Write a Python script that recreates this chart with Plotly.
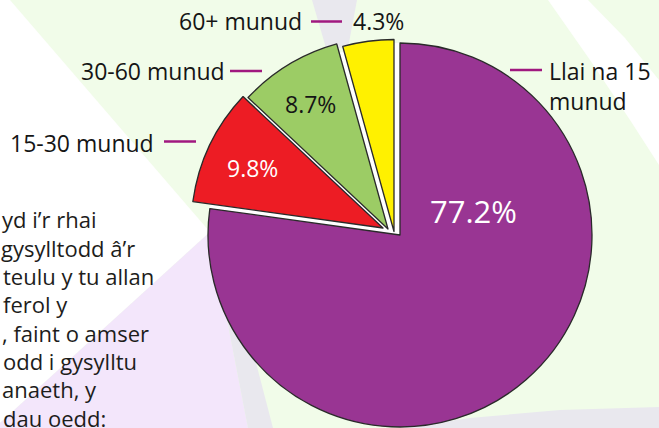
import plotly.graph_objects as go

W, H = 659, 428

# data
labels = ["Llai na 15 munud", "15-30 munud", "30-60 munud", "60+ munud"]
shares = [77.2, 9.8, 8.7, 4.3]
slice_colors = ["#993593", "#ed1c24", "#9ccc65", "#fff100"]
pct_colors = ["white", "white", "#151515", "#151515"]

body_lines = ["yd i’r rhai", "gysylltodd â’r", "teulu y tu allan", "ferol y",
              ", faint o amser", "odd i gysylltu", "anaeth, y", "dau oedd:"]

# pie geometry in pixels (centre, radius, per-slice explode offset)
CX, CY, R = 400, 235, 192
shift_px = [(0, 0), (-17, -7), (-12, -6), (-6, -3.5)]

FONT = "Open Sans"
LEADER = "#a0187f"


def px(x):
    return x / W


def py(y):
    return 1 - y / H


def pie_domain(dx=0, dy=0):
    return dict(x=[px(CX + dx - R), px(CX + dx + R)],
                y=[py(CY + dy + R), py(CY + dy - R)])


def poly(points):
    return "M " + " L ".join(f"{px(x):.5f},{py(y):.5f}" for x, y in points) + " Z"


fig = go.Figure()

# white disc that shows through the gaps between exploded slices
fig.add_trace(go.Pie(values=[1], marker=dict(colors=["white"], line=dict(width=0)),
                     textinfo="none", hoverinfo="skip", sort=False,
                     domain=pie_domain(), showlegend=False))

# one trace per slice so each can be shifted on its own
for i in range(len(shares)):
    colors = [slice_colors[j] if j == i else "rgba(0,0,0,0)" for j in range(len(shares))]
    widths = [1.3 if j == i else 0 for j in range(len(shares))]
    fig.add_trace(go.Pie(
        labels=labels, values=shares, sort=False, direction="clockwise", rotation=0,
        marker=dict(colors=colors, line=dict(color="#2a2a2a", width=widths)),
        textinfo="none", hoverinfo="label+percent", showlegend=False,
        domain=pie_domain(*shift_px[i]),
    ))

# background decoration
bg_shapes = [
    ([(10, 0), (210, 232), (0, 423), (0, 0)], "white"),
    ([(210, 232), (0, 423), (0, 428), (248, 428)], "#f3e6fb"),
    ([(210, 232), (248, 428), (273, 428), (222, 232)], "#e9e8ee"),
    ([(312, 0), (357, 0), (348, 48), (326, 48)], "#e9e8ee"),
    ([(548, 0), (588, 0), (625, 38), (659, 80), (659, 165), (630, 120), (590, 60)], "white"),
    ([(400, 428), (470, 418), (560, 410), (659, 407), (659, 428)], "#e9e8ee"),
]
for pts, col in bg_shapes:
    fig.add_shape(type="path", path=poly(pts), xref="paper", yref="paper",
                  fillcolor=col, line=dict(width=0), layer="below")


def ann(text, x, yc, anchor, size=23, color="#151515"):
    fig.add_annotation(text=text, x=px(x), y=py(yc), xref="paper", yref="paper",
                       xanchor=anchor, yanchor="middle", align=anchor if anchor != "center" else "center",
                       showarrow=False, borderpad=0, borderwidth=0,
                       font=dict(family=FONT, size=size, color=color))


def leader(x0, x1, y):
    fig.add_shape(type="line", x0=px(x0), x1=px(x1), y0=py(y), y1=py(y),
                  xref="paper", yref="paper", line=dict(color=LEADER, width=2.5))


# category labels (y given as text centre)
first, second = labels[0].rsplit(" ", 1)
ann(first + "<br>" + second, 549, 86, "left")
leader(510, 542, 70)
ann(labels[1], 154, 142.7, "right")
leader(164, 196, 141.5)
ann(labels[2], 225, 71, "right")
leader(230, 262, 71)
ann(labels[3], 302, 21, "right")
leader(311, 342, 21.5)

# percentages
pct = [f"{v:.1f}%" for v in shares]
ann(pct[0], 473, 211.2, "center", size=31, color=pct_colors[0])
ann(pct[1], 252.5, 167.7, "center", color=pct_colors[1])
ann(pct[2], 310, 104.3, "center", color=pct_colors[2])
ann(pct[3], 353, 21, "left", color=pct_colors[3])

# cropped body text on the left
body_x = [2, 1, 3, 3, 2, 3, 2, 3]
for k, line in enumerate(body_lines):
    ann(line, body_x[k], 219.4 + 28.3 * k, "left", size=22, color="#1d1d1b")

fig.update_layout(
    width=W, height=H,
    margin=dict(l=0, r=0, t=0, b=0),
    paper_bgcolor="#f1fce9",
    plot_bgcolor="#f1fce9",
    showlegend=False,
)

# drop the browser's default body margin so the figure sits at the page corner
fig.write_html("out.html", config={"displayModeBar": False},
               post_script="document.body.style.margin = '0px';")
